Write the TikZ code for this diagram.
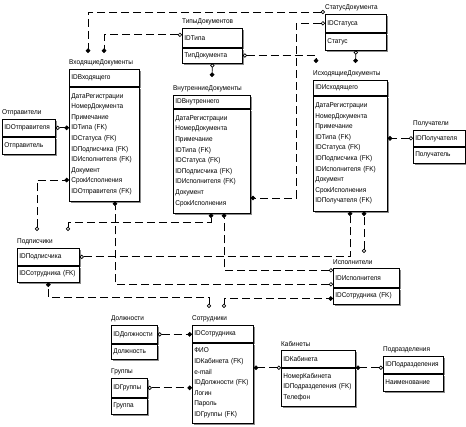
\documentclass[tikz,border=0pt]{standalone}
\usepackage{fontspec}
\setmainfont{Liberation Sans}[FakeStretch=0.92]
\usepackage{tikz}
\usetikzlibrary{arrows.meta, positioning, shadows}

\begin{document}
\begin{tikzpicture}[
    x=1pt, y=-1pt,
    every node/.style={font=\fontsize{7}{10.6}\selectfont},
    keyrow/.style={rectangle, draw, line width=0.7pt, fill=white, anchor=north west, align=left, inner xsep=2pt, inner ysep=1pt,
        drop shadow={shadow xshift=2pt, shadow yshift=-2pt, fill=black!45, opacity=1}},
    attrs/.style={keyrow},
    ttl/.style={inner sep=0pt},
    rel/.style={line width=0.7pt, dash pattern=on 8pt off 4pt,
        {Circle[open, length=4.2pt, width=4.2pt]}-{Circle[length=4.6pt, width=4.6pt]}}
]
\useasboundingbox (0,0) rectangle (466,427);

\node[keyrow, text width=56pt, minimum height=19pt] (tipy) at (182,28) {IDТипа};
\node[attrs, text width=56pt, minimum height=15pt, below=0pt of tipy] (tipyA) {ТипДокумента};
\node[ttl, above right=3pt and 0pt of tipy.north west] (tipyT) {ТипыДокументов};

\node[keyrow, text width=57pt, minimum height=18pt] (status) at (325,14) {IDСтатуса};
\node[attrs, text width=57pt, minimum height=17pt, below=0pt of status] (statusA) {Статус};
\node[ttl, above right=3pt and 0pt of status.north west] (statusT) {СтатусДокумента};

\node[keyrow, text width=66pt, minimum height=17pt] (vhod) at (69,69) {IDВходящего};
\node[attrs, text width=66pt, minimum height=114pt, below=0pt of vhod] (vhodA) {ДатаРегистрации\\НомерДокумента\\Примечание\\IDТипа (FK)\\IDСтатуса (FK)\\IDПодписчика (FK)\\IDИсполнителя (FK)\\Документ\\СрокИсполнения\\IDОтправителя (FK)};
\node[ttl, above right=3pt and 0pt of vhod.north west] (vhodT) {ВходящиеДокументы};

\node[keyrow, text width=73pt, minimum height=13pt] (vnutr) at (173,95) {IDВнутреннего};
\node[attrs, text width=73pt, minimum height=104pt, below=0pt of vnutr] (vnutrA) {ДатаРегистрации\\НомерДокумента\\Примечание\\IDТипа (FK)\\IDСтатуса (FK)\\IDПодписчика (FK)\\IDИсполнителя (FK)\\Документ\\СрокИсполнения};
\node[ttl, above right=3pt and 0pt of vnutr.north west] (vnutrT) {ВнутренниеДокументы};

\node[keyrow, text width=70pt, minimum height=15pt] (ishod) at (313,80) {IDИсходящего};
\node[attrs, text width=70pt, minimum height=115pt, below=0pt of ishod] (ishodA) {ДатаРегистрации\\НомерДокумента\\Примечание\\IDТипа (FK)\\IDСтатуса (FK)\\IDПодписчика (FK)\\IDИсполнителя (FK)\\Документ\\СрокИсполнения\\IDПолучателя (FK)};
\node[ttl, above right=3pt and 0pt of ishod.north west] (ishodT) {ИсходящиеДокументы};

\node[keyrow, text width=49pt, minimum height=17pt] (otpr) at (2,119) {IDОтправителя};
\node[attrs, text width=49pt, minimum height=17pt, below=0pt of otpr] (otprA) {Отправитель};
\node[ttl, above right=3pt and 0pt of otpr.north west] (otprT) {Отправители};

\node[keyrow, text width=48pt, minimum height=16pt] (poluch) at (413,130) {IDПолучателя};
\node[attrs, text width=48pt, minimum height=16pt, below=0pt of poluch] (poluchA) {Получатель};
\node[ttl, above right=3pt and 0pt of poluch.north west] (poluchT) {Получатели};

\node[keyrow, text width=58pt, minimum height=17pt] (podp) at (17,248) {IDПодписчика};
\node[attrs, text width=58pt, minimum height=16pt, below=0pt of podp] (podpA) {IDСотрудника (FK)};
\node[ttl, above right=3pt and 0pt of podp.north west] (podpT) {Подписчики};

\node[keyrow, text width=62pt, minimum height=19pt] (ispol) at (333,268) {IDИсполнителя};
\node[attrs, text width=62pt, minimum height=16pt, below=0pt of ispol] (ispolA) {IDСотрудника (FK)};
\node[ttl, above right=3pt and 0pt of ispol.north west] (ispolT) {Исполнители};

\node[keyrow, text width=57pt, minimum height=17pt] (sotr) at (192,325) {IDСотрудника};
\node[attrs, text width=57pt, minimum height=80pt, below=0pt of sotr] (sotrA) {ФИО\\IDКабинета (FK)\\e-mail\\IDДолжности (FK)\\Логин\\Пароль\\IDГруппы (FK)};
\node[ttl, above right=3pt and 0pt of sotr.north west] (sotrT) {Сотрудники};

\node[keyrow, text width=42pt, minimum height=18pt] (dolzh) at (111,325) {IDДолжности};
\node[attrs, text width=42pt, minimum height=15pt, below=0pt of dolzh] (dolzhA) {Должность};
\node[ttl, above right=3pt and 0pt of dolzh.north west] (dolzhT) {Должности};

\node[keyrow, text width=32pt, minimum height=19pt] (grup) at (111,378) {IDГруппы};
\node[attrs, text width=32pt, minimum height=16pt, below=0pt of grup] (grupA) {Группа};
\node[ttl, above right=3pt and 0pt of grup.north west] (grupT) {Группы};

\node[keyrow, text width=70pt, minimum height=17pt] (kabin) at (281,350) {IDКабинета};
\node[attrs, text width=70pt, minimum height=38pt, below=0pt of kabin] (kabinA) {НомерКабинета\\IDПодразделения (FK)\\Телефон};
\node[ttl, above right=3pt and 0pt of kabin.north west] (kabinT) {Кабинеты};

\node[keyrow, text width=56pt, minimum height=17pt] (podr) at (383,356) {IDПодразделения};
\node[attrs, text width=56pt, minimum height=17pt, below=0pt of podr] (podrA) {Наименование};
\node[ttl, above right=3pt and 0pt of podr.north west] (podrT) {Подразделения};

\draw[rel] ([yshift=2pt]status.north west) -| ([xshift=19pt,yshift=16pt]vhod.north west);
\draw[rel] ([yshift=3pt]tipy.west) -| ([xshift=35pt,yshift=16pt]vhod.north west);
\draw[rel] (tipyA.south) -- ([xshift=39pt,yshift=18pt]vnutr.north west);
\draw[rel] (tipyA.east) -| ([xshift=3pt,yshift=17pt]ishod.north west);
\draw[rel] (statusA.south) -- ([xshift=42.5pt,yshift=17pt]ishod.north west);
\draw[rel] (status.west) -- ++(-29pt,0pt) |- ([yshift=-37pt]vnutrA.east);
\draw[rel] (otpr.east) -- (otpr.east -| vhodA.west);
\draw[rel] (poluch.west) -- (poluch.west -| ishodA.east);
\draw[rel] ([xshift=20pt,yshift=17pt]podp.north west) |- ([yshift=-36pt]vhodA.west);
\draw[rel] ([xshift=51pt,yshift=17pt]podp.north west) -- ++(0pt,9pt) -| ([xshift=38pt]vnutrA.south west);
\draw[rel] (podp.east) -| ([xshift=37pt]ishodA.south west);
\draw[rel] ([xshift=31pt,yshift=15pt]ispol.north west) -- ([xshift=51pt]ishodA.south west);
\draw[rel] ([yshift=7.5pt]ispol.west) -| ([xshift=51pt]vnutrA.south west);
\draw[rel] ([yshift=-6.5pt]ispol.west) -| ([xshift=46pt]vhodA.south west);
\draw[rel] ([xshift=32pt,yshift=17pt]sotr.north west) |- ([yshift=-2.5pt]ispolA.west);
\draw[rel] ([xshift=17pt,yshift=17pt]sotr.north west) -- ++(0pt,11pt) -| (podpA.south);
\draw[rel] (dolzh.east) -- (dolzh.east -| sotr.west);
\draw[rel] (grup.east) -- (grup.east -| sotrA.west);
\draw[rel] (kabinA.north west) -- (kabinA.north west -| sotrA.east);
\draw[rel] (podr.west |- kabinA.north) -- (kabinA.north east);
\end{tikzpicture}
\end{document}
